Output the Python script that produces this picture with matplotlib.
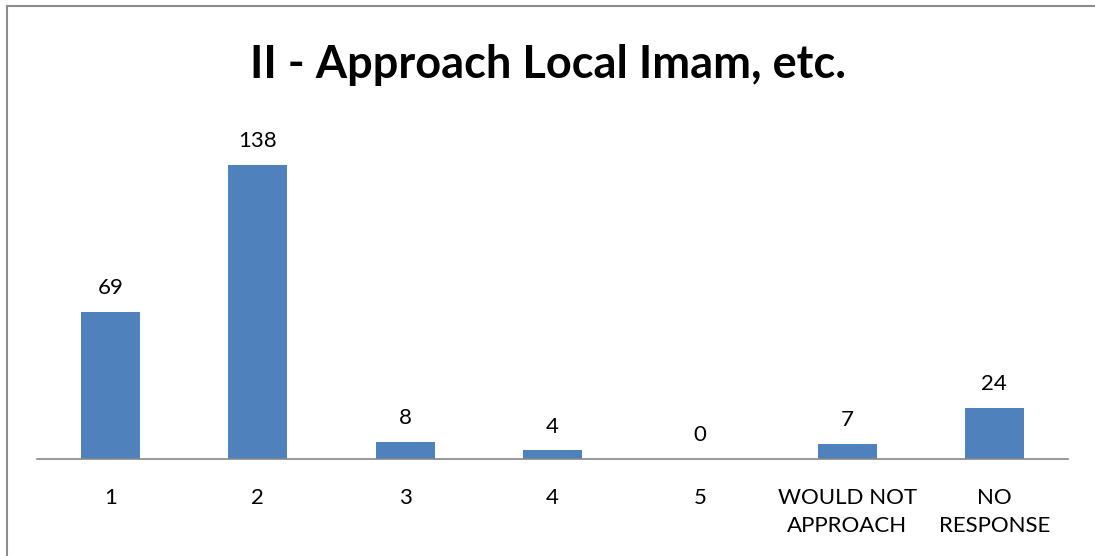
import matplotlib.pyplot as plt
from matplotlib.lines import Line2D

categories = ['1', '2', '3', '4', '5', 'WOULD NOT\nAPPROACH', 'NO\nRESPONSE']
counts = [69, 138, 8, 4, 0, 7, 24]

plt.rcParams['font.family'] = ['Lato', 'DejaVu Sans']

W, H = 1095, 556
fig = plt.figure(figsize=(W / 100, H / 100), dpi=100)
ax = fig.add_axes([37 / W, (H - 459) / H, (1068 - 37) / W, (459 - 118) / H])

x = range(len(categories))
bars = ax.bar(x, counts, width=0.4, color='#4F81BD')
ax.set_xlim(-0.5, len(categories) - 0.5)
ax.set_ylim(0, 160)

for b, v in zip(bars, counts):
    ax.text(b.get_x() + b.get_width() / 2, v + 6.5, str(v), ha='center', va='bottom', fontsize=16)

ax.set_xticks(list(x))
ax.set_xticklabels(categories, fontsize=16, linespacing=1.5)
ax.tick_params(axis='x', length=0, pad=21)
ax.set_yticks([])
for s in ['top', 'right', 'left']:
    ax.spines[s].set_visible(False)
ax.spines['bottom'].set_color('#888888')
ax.spines['bottom'].set_linewidth(1.2)

fig.text(548 / W, 1 - 65 / H, 'II - Approach Local Imam, etc.', ha='center', va='center',
         fontsize=32.5, fontweight='bold')

# outer chart border (top and left visible)
fig.add_artist(Line2D([7 / W, 1], [1 - 6 / H, 1 - 6 / H], color='#8c8c8c', lw=1.5))
fig.add_artist(Line2D([7 / W, 7 / W], [0, 1 - 6 / H], color='#8c8c8c', lw=1.5))

fig.savefig('out.png', dpi=100)
